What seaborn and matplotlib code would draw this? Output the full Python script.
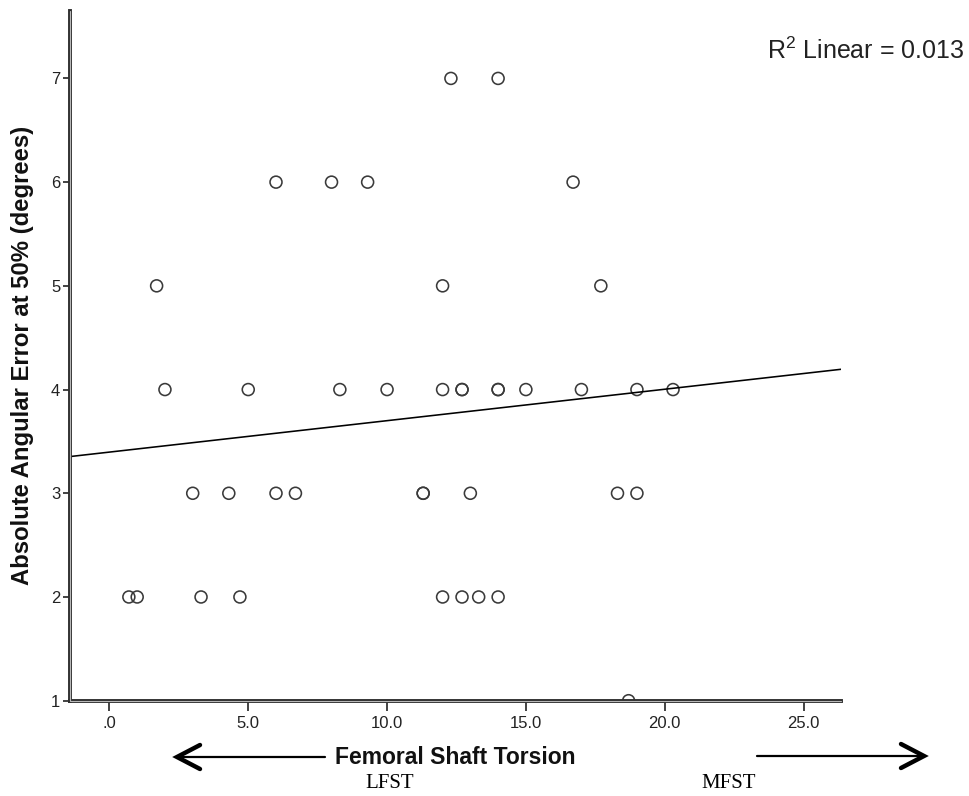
import numpy as np
import pandas as pd
import matplotlib
matplotlib.use("Agg")
import matplotlib.pyplot as plt
from matplotlib.lines import Line2D
import seaborn as sns

# Femoral shaft torsion (degrees) for each case
torsion = [12.3, 14.0,
           6.0, 8.0, 9.3, 16.7,
           1.7, 12.0, 17.7,
           2.0, 5.0, 8.3, 10.0, 12.0, 12.7, 12.7, 14.0, 14.0, 15.0, 17.0, 19.0, 20.3,
           3.0, 4.3, 6.0, 6.7, 11.3, 11.3, 13.0, 18.3, 19.0,
           0.7, 1.0, 3.3, 4.7, 12.0, 12.7, 13.3, 14.0,
           18.7]
# Absolute angular error at 50% (degrees) for the same cases
angular_error = [7, 7,
                 6, 6, 6, 6,
                 5, 5, 5,
                 4, 4, 4, 4, 4, 4, 4, 4, 4, 4, 4, 4, 4,
                 3, 3, 3, 3, 3, 3, 3, 3, 3,
                 2, 2, 2, 2, 2, 2, 2, 2,
                 1]

x_ticks = [0, 5, 10, 15, 20, 25]
x_tick_labels = [".0", "5.0", "10.0", "15.0", "20.0", "25.0"]
y_ticks = [1, 2, 3, 4, 5, 6, 7]
y_tick_labels = ["1", "2", "3", "4", "5", "6", "7"]

sns.set_style("ticks")
plt.rcParams["font.family"] = ["Liberation Sans", "DejaVu Sans"]
plt.rcParams["mathtext.fontset"] = "custom"
plt.rcParams["mathtext.rm"] = "Liberation Sans"
plt.rcParams["mathtext.it"] = "Liberation Sans:italic"
plt.rcParams["mathtext.bf"] = "Liberation Sans:bold"

W, H = 969, 796
fig = plt.figure(figsize=(W / 100, H / 100), dpi=100)
fig.patch.set_facecolor("white")

# plot area in pixel terms: left 70, right 841, top 11, bottom 700.7
ax = fig.add_axes([70 / W, (H - 700.7) / H, (841 - 70) / W, (700.7 - 11) / H])
ax.set_facecolor("white")

df = pd.DataFrame({"torsion": torsion, "error": angular_error})

xlim = (-1.42, 26.35)
ylim = (1.0, 7.65)
ax.set_xlim(*xlim)
ax.set_ylim(*ylim)

sns.scatterplot(data=df, x="torsion", y="error", ax=ax, s=74,
                facecolor="none", edgecolor="#3a3a3a", linewidth=1.15,
                zorder=3, legend=False)
sns.regplot(data=df, x="torsion", y="error", ax=ax, scatter=False, ci=None,
            truncate=False, line_kws={"color": "black", "lw": 1.15, "zorder": 4})
ax.set_xlim(*xlim)
ax.set_ylim(*ylim)

# fit summary
r = np.corrcoef(df["torsion"], df["error"])[0, 1]
fig.text(767 / W, 1 - 51 / H, r"R$^2$ Linear = " + f"{r ** 2:.3f}",
         fontsize=18, color="#222222", ha="left", va="center")

# axes: double-ruled left and bottom lines
sns.despine(ax=ax)
for side in ("left", "bottom"):
    ax.spines[side].set_linewidth(2.8)
    ax.spines[side].set_color("#2e2e2e")
    ax.spines[side].set_zorder(5)
ax.add_line(Line2D([0, 0], [0, 1], transform=ax.transAxes, lw=0.8,
                   color="#b8b8b8", clip_on=False, zorder=6))
ax.add_line(Line2D([0, 1], [0, 0], transform=ax.transAxes, lw=0.8,
                   color="#b8b8b8", clip_on=False, zorder=6))

ax.set_xticks(x_ticks, x_tick_labels)
ax.set_yticks(y_ticks, y_tick_labels)
ax.tick_params(axis="x", direction="out", length=7, width=1.2, color="#222222",
               pad=4, labelsize=12, labelcolor="#222222")
ax.tick_params(axis="y", direction="out", length=5, width=1.2, color="#222222",
               pad=2, labelsize=12, labelcolor="#222222")

ax.set_xlabel("Femoral Shaft Torsion", fontsize=16.5, fontweight="bold", color="#111111")
ax.xaxis.set_label_coords(0.5, (700.7 - 758) / (700.7 - 11))
ax.xaxis.label.set_va("center")

ax.set_ylabel("Absolute Angular Error at 50% (degrees)", fontsize=17.2,
              fontweight="bold", color="#111111")
ax.yaxis.set_label_coords((23 - 70) / (841 - 70), 0.5)
ax.yaxis.label.set_va("center")


def direction_arrow(x_tail, x_tip, y):
    """Horizontal arrow with an open chevron head, in figure pixels."""
    fy = 1 - y / H
    fig.add_artist(Line2D([x_tail / W, x_tip / W], [fy, fy], lw=1.6, color="black"))
    d = 1 if x_tip > x_tail else -1
    back = (x_tip - d * 23) / W
    fig.add_artist(Line2D([back, x_tip / W, back],
                          [1 - (y - 12) / H, fy, 1 - (y + 12) / H],
                          lw=3.2, color="black", solid_joinstyle="miter",
                          solid_capstyle="round"))


direction_arrow(325, 177, 757)
direction_arrow(757, 924, 756)

fig.text(390 / W, 1 - 783 / H, "LFST", family=["Liberation Serif", "DejaVu Serif"],
         fontsize=15, ha="center", va="center", color="black")
fig.text(728.5 / W, 1 - 783 / H, "MFST", family=["Liberation Serif", "DejaVu Serif"],
         fontsize=15, ha="center", va="center", color="black")

fig.savefig("out.png", dpi=100, facecolor="white")
